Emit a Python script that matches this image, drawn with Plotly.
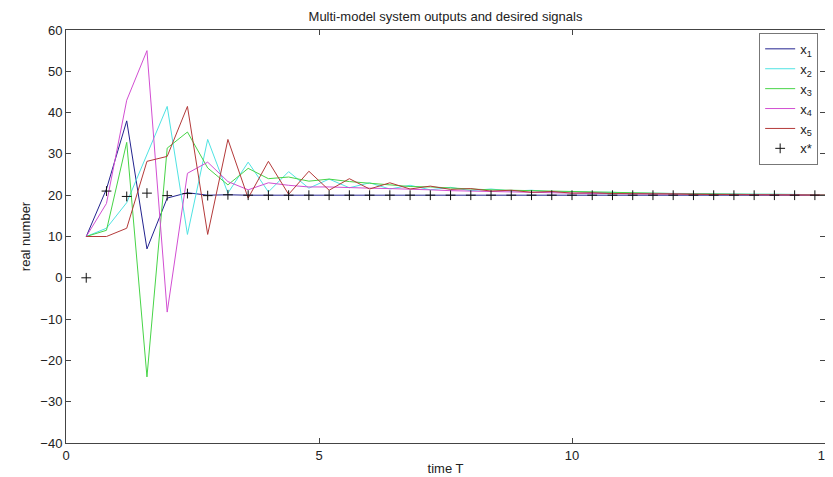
import plotly.graph_objects as go

t = [round(0.4 * k, 1) for k in range(1, 39)]

x1 = [10, 21.5, 38, 7, 19.3, 20.6, 20, 20.1, 20, 20, 20, 20, 20, 20, 20, 20, 20, 20, 20,
      20, 20, 20, 20, 20, 20, 20, 20, 20, 20, 20, 20, 20, 20, 20, 20, 20, 20, 20]
x2 = [10, 12, 18.2, 29.8, 41.5, 10.5, 33.5, 20.5, 28, 20.8, 25.7, 21.7, 23.9, 21.8, 23, 21.5,
      22.4, 21.3, 21.9, 21.1, 21.5, 21, 21.2, 20.8, 20.9, 20.7, 20.7, 20.5, 20.5, 20.4, 20.4,
      20.3, 20.3, 20.2, 20.2, 20.2, 20.1, 20.1]
x3 = [10, 11.5, 32.8, -24, 31.4, 35.3, 26.6, 22.5, 26.5, 24, 24.4, 23.4, 23.9, 23.3, 22.9,
      22.5, 22.1, 22, 21.7, 21.5, 21.3, 21.2, 21, 20.9, 20.8, 20.7, 20.6, 20.5, 20.5, 20.4,
      20.4, 20.3, 20.3, 20.2, 20.2, 20.2, 20.1, 20.1]
x4 = [10, 18, 43, 55, -8.3, 25.3, 28, 23.3, 21.3, 23, 22.4, 22, 22, 21.8, 21.7, 21.6, 21.5,
      21.3, 21.1, 21, 20.8, 20.7, 20.6, 20.5, 20.5, 20.4, 20.4, 20.3, 20.3, 20.3, 20.2, 20.2,
      20.2, 20.1, 20.1, 20.1, 20.1, 20]
x5 = [10, 10, 12, 28.2, 29.4, 41.5, 10.5, 33.5, 19.3, 28.2, 20.2, 25.8, 21.2, 24, 21.5, 23,
      21.5, 22.2, 21.4, 21.6, 21, 21.2, 20.7, 20.9, 20.5, 20.6, 20.4, 20.4, 20.3, 20.3, 20.2,
      20.2, 20.2, 20.1, 20.1, 20.1, 20.1, 20]
xstar = [0, 21, 19.7, 20.5, 19.9, 20.4, 19.9, 20.1, 20, 20, 20, 20, 20, 20, 20, 20, 20, 20,
         20, 20, 20, 20, 20, 20, 20, 20, 20, 20, 20, 20, 20, 20, 20, 20, 20, 20, 20, 20]

series = [("x<sub>1</sub>", x1, "#23238f"),
          ("x<sub>2</sub>", x2, "#4fe3e3"),
          ("x<sub>3</sub>", x3, "#47d447"),
          ("x<sub>4</sub>", x4, "#d24fd2"),
          ("x<sub>5</sub>", x5, "#b43a3a")]

FONT = "Liberation Sans, Arial"

fig = go.Figure()
for name, ys, col in series:
    fig.add_trace(go.Scatter(x=t, y=ys, mode="lines", name=name,
                             line=dict(color=col, width=1)))
fig.add_trace(go.Scatter(x=t, y=xstar, mode="markers", name="x*",
                         marker=dict(symbol="cross-thin", size=7, color="#111",
                                     line=dict(color="#111", width=1))))

axis_common = dict(showline=True, linecolor="#444", linewidth=1, mirror="ticks",
                   ticks="inside", ticklen=5, tickcolor="#444", showgrid=False,
                   zeroline=False, automargin=False, ticklabeloverflow="allow",
                   tickfont=dict(size=13, color="#222", family=FONT))
fig.update_xaxes(range=[0, 15], tickvals=[0, 5, 10, 15],
                 title=dict(text="time T", standoff=2,
                            font=dict(size=13, color="#222", family=FONT)),
                 **axis_common)
fig.update_yaxes(range=[-40, 60], tickvals=list(range(-40, 61, 10)),
                 title=dict(text="real number", standoff=6,
                            font=dict(size=13, color="#222", family=FONT)),
                 **axis_common)

# page body has an 8px default margin; size the figure so the plot box lands at
# x 66..825, y 30..443 in the window
fig.update_layout(
    width=825, height=469,
    margin=dict(l=58, r=8, t=22, b=34),
    paper_bgcolor="white", plot_bgcolor="white",
    title=dict(text="Multi-model system outputs and desired signals",
               x=0.5, xref="paper", xanchor="center",
               y=0.983, yref="container", yanchor="middle",
               font=dict(size=13, color="#222", family=FONT)),
    legend=dict(x=0.991, y=0.993, xanchor="right", yanchor="top",
                bgcolor="white", bordercolor="#777", borderwidth=1,
                font=dict(size=13, color="#222", family=FONT),
                tracegroupgap=0),
    showlegend=True,
)

fig.write_html("out.html")
